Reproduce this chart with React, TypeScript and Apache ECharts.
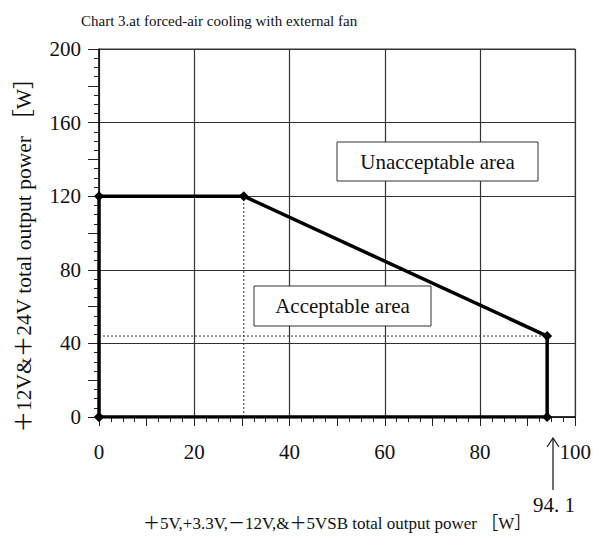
import React, { useEffect, useRef } from "react";
import * as echarts from "echarts";

const chartTitle = "Chart 3.at forced-air cooling with external fan";
const xAxisName = "＋5V,+3.3V,－12V,&＋5VSB total output power ［W］";
const yAxisName = "＋12V&＋24V total output power ［W］";

// boundary of the acceptable area (x: +5V... total power, y: +12V&+24V total power)
const boundaryX = [0, 0, 30.4, 94.1, 94.1, 0];
const boundaryY = [0, 120, 120, 44, 0, 0];

// dotted guide lines
const guideVertical = [
  [30.4, 0],
  [30.4, 120],
];
const guideHorizontal = [
  [0, 44],
  [94.1, 44],
];

const xMin = 0;
const xMax = 100;
const yMin = 0;
const yMax = 200;
const xLabelStep = 20;
const yLabelStep = 40;

const maxPointLabel = "94. 1";
const upperAreaLabel = "Unacceptable area";
const lowerAreaLabel = "Acceptable area";

const FONT = "'Liberation Serif', 'Noto Sans CJK JP', serif";

export default function App() {
  const ref = useRef<HTMLDivElement>(null);

  useEffect(() => {
    if (!ref.current) return;
    const chart = echarts.init(ref.current, undefined, { renderer: "svg" });

    const boundary = boundaryX.map((x, i) => [x, boundaryY[i]]);

    const option: any = {
      animation: false,
      backgroundColor: "#ffffff",
      textStyle: { fontFamily: FONT, color: "#111" },
      title: {
        text: chartTitle,
        left: 76,
        top: 8,
        textStyle: {
          fontFamily: FONT,
          fontSize: 15,
          fontWeight: "normal",
          color: "#111",
        },
      },
      grid: {
        left: 99,
        top: 49,
        right: 13,
        bottom: 133,
        show: true,
        borderColor: "#333",
        borderWidth: 1,
        backgroundColor: "transparent",
      },
      xAxis: [
        {
          type: "value",
          min: xMin,
          max: xMax,
          interval: xLabelStep,
          name: xAxisName,
          nameLocation: "middle",
          nameGap: 98,
          nameTextStyle: { fontFamily: FONT, fontSize: 17, color: "#111" },
          axisLine: { show: true, lineStyle: { color: "#111", width: 1.5 } },
          axisTick: { show: true, length: 9, lineStyle: { color: "#222" } },
          minorTick: { show: true, splitNumber: 8, length: 5, lineStyle: { color: "#222" } },
          axisLabel: { fontFamily: FONT, fontSize: 21, color: "#111", margin: 24 },
          splitLine: { show: true, lineStyle: { color: "#333", width: 1.2 } },
        },
        {
          type: "value",
          min: xMin,
          max: xMax,
          interval: xLabelStep / 2,
          position: "bottom",
          axisLine: { show: false },
          axisTick: { show: true, length: 9, lineStyle: { color: "#222" } },
          axisLabel: { show: false },
          splitLine: { show: false },
        },
      ],
      yAxis: [
        {
          type: "value",
          min: yMin,
          max: yMax,
          interval: yLabelStep,
          name: yAxisName,
          nameLocation: "middle",
          nameGap: 64,
          nameTextStyle: {
            fontFamily: FONT,
            fontSize: 21.5,
            color: "#111",
            padding: [0, 34, 0, 0],
          },
          axisLine: { show: true, lineStyle: { color: "#111", width: 1.5 } },
          axisTick: { show: true, length: 11, lineStyle: { color: "#222" } },
          minorTick: { show: true, splitNumber: 8, length: 5, lineStyle: { color: "#222" } },
          axisLabel: { fontFamily: FONT, fontSize: 21, color: "#111", margin: 18 },
          splitLine: { show: true, lineStyle: { color: "#333", width: 1.2 } },
        },
        {
          type: "value",
          min: yMin,
          max: yMax,
          interval: yLabelStep / 2,
          position: "left",
          axisLine: { show: false },
          axisTick: { show: true, length: 11, lineStyle: { color: "#222" } },
          axisLabel: { show: false },
          splitLine: { show: false },
        },
      ],
      series: [
        {
          type: "line",
          data: guideVertical,
          symbol: "none",
          lineStyle: { color: "#333", width: 1, type: [2, 2] },
          silent: true,
          z: 2,
        },
        {
          type: "line",
          data: guideHorizontal,
          symbol: "none",
          lineStyle: { color: "#333", width: 1, type: [2, 2] },
          silent: true,
          z: 2,
        },
        {
          type: "line",
          data: boundary,
          symbol: "diamond",
          symbolSize: 10,
          itemStyle: { color: "#000" },
          lineStyle: { color: "#000", width: 3.5 },
          z: 5,
        },
      ],
      graphic: [
        {
          type: "rect",
          shape: { x: 337, y: 142, width: 201, height: 39 },
          style: { fill: "#fff", stroke: "#333", lineWidth: 1 },
          z: 100,
        },
        {
          type: "text",
          x: 437.5,
          y: 161.5,
          style: {
            text: upperAreaLabel,
            fontFamily: FONT,
            fontSize: 21,
            fill: "#111",
            align: "center",
            verticalAlign: "middle",
          },
          z: 101,
        },
        {
          type: "rect",
          shape: { x: 254, y: 286, width: 177, height: 40 },
          style: { fill: "#fff", stroke: "#333", lineWidth: 1 },
          z: 100,
        },
        {
          type: "text",
          x: 342.5,
          y: 306,
          style: {
            text: lowerAreaLabel,
            fontFamily: FONT,
            fontSize: 21,
            fill: "#111",
            align: "center",
            verticalAlign: "middle",
          },
          z: 101,
        },
        {
          type: "line",
          shape: { x1: 553, y1: 438, x2: 553, y2: 490 },
          style: { stroke: "#111", lineWidth: 1.2 },
          z: 100,
        },
        {
          type: "polyline",
          shape: {
            points: [
              [547, 447],
              [553, 438],
              [559, 447],
            ],
          },
          style: { stroke: "#111", lineWidth: 1.2, fill: "none" },
          z: 100,
        },
        {
          type: "text",
          x: 554,
          y: 505,
          style: {
            text: maxPointLabel,
            fontFamily: FONT,
            fontSize: 21,
            fill: "#111",
            align: "center",
            verticalAlign: "middle",
          },
          z: 101,
        },
      ],
    };

    chart.setOption(option);
    return () => chart.dispose();
  }, []);

  return (
    <div
      ref={ref}
      style={{ position: "absolute", left: 0, top: 0, width: 594, height: 550 }}
    />
  );
}
